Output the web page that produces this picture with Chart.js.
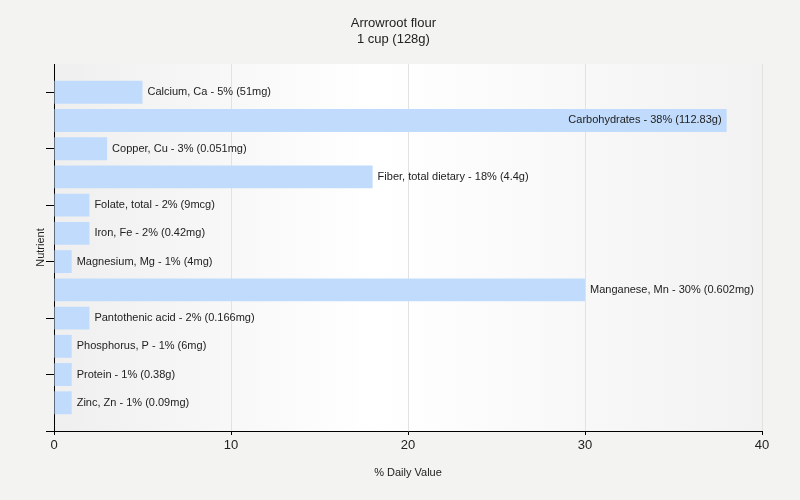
<!DOCTYPE html>
<html>
<head>
<meta charset="utf-8">
<script src="https://cdn.jsdelivr.net/npm/chart.js@4/dist/chart.umd.min.js"></script>
<style>
  html, body { margin: 0; padding: 0; background: #f3f3f1; }
  #wrap { width: 800px; height: 500px; }
</style>
</head>
<body>
<div id="wrap"><canvas id="barchart" width="800" height="500"></canvas></div>
<script>
// data
const nutrients = ["Calcium, Ca", "Carbohydrates", "Copper, Cu", "Fiber, total dietary", "Folate, total",
  "Iron, Fe", "Magnesium, Mg", "Manganese, Mn", "Pantothenic acid", "Phosphorus, P", "Protein", "Zinc, Zn"];
const dailyValues = [5, 38, 3, 18, 2, 2, 1, 30, 2, 1, 1, 1];
const amounts = ["51mg", "112.83g", "0.051mg", "4.4g", "9mcg", "0.42mg", "4mg", "0.602mg", "0.166mg", "6mg", "0.38g", "0.09mg"];
const xTicks = [0, 10, 20, 30, 40];

const barLabels = nutrients.map((n, i) => n + ' - ' + dailyValues[i] + '% (' + amounts[i] + ')');

Chart.defaults.font.family = "'Liberation Sans', Arial, sans-serif";
Chart.defaults.color = '#222';

// plot area background, light gradient
const plotBg = {
  id: 'plotBg',
  beforeDraw(chart) {
    const {ctx, chartArea: a} = chart;
    const g = ctx.createLinearGradient(a.left, 0, a.right, 0);
    g.addColorStop(0, '#efefef');
    g.addColorStop(0.45, '#ffffff');
    g.addColorStop(1, '#f2f2f2');
    ctx.save();
    ctx.fillStyle = g;
    ctx.fillRect(a.left, a.top, a.right - a.left, a.bottom - a.top);
    ctx.restore();
  }
};

// text next to / inside each bar
const barText = {
  id: 'barText',
  afterDatasetsDraw(chart) {
    const {ctx, chartArea} = chart;
    const meta = chart.getDatasetMeta(0);
    ctx.save();
    ctx.font = "11px 'Liberation Sans', Arial, sans-serif";
    ctx.fillStyle = '#222';
    ctx.textBaseline = 'middle';
    meta.data.forEach((bar, i) => {
      const txt = barLabels[i];
      const w = ctx.measureText(txt).width;
      if (bar.x + 5 + w > chartArea.right) {
        ctx.textAlign = 'right';
        ctx.fillText(txt, bar.x - 5, bar.y);
      } else {
        ctx.textAlign = 'left';
        ctx.fillText(txt, bar.x + 5, bar.y);
      }
    });
    ctx.restore();
  }
};

new Chart(document.getElementById('barchart'), {
  type: 'bar',
  data: {
    datasets: [{
      data: nutrients.map((n, i) => ({x: dailyValues[i], y: i})),
      backgroundColor: '#c0dbfc',
      borderWidth: 0,
      categoryPercentage: 1,
      barPercentage: 0.81
    }]
  },
  options: {
    responsive: false,
    animation: false,
    indexAxis: 'y',
    layout: {padding: {left: 24.8, right: 38, top: 0, bottom: 0}},
    scales: {
      x: {
        type: 'linear',
        min: 0, max: 40,
        afterBuildTicks: s => { s.ticks = xTicks.map(v => ({value: v})); },
        grid: {color: '#e2e2e2', tickLength: 4, tickColor: '#000'},
        border: {color: '#000'},
        ticks: {font: {size: 13}, color: '#222', padding: 3},
        title: {display: true, text: '% Daily Value', font: {size: 11}, color: '#222', padding: {top: 9.5, bottom: 20.7}}
      },
      y: {
        type: 'linear',
        min: -1, max: 12,
        offset: false,
        reverse: true,
        afterBuildTicks: s => { s.ticks = [0, 2, 4, 6, 8, 10, 12].map(v => ({value: v})); },
        grid: {drawOnChartArea: false, offset: false, tickLength: 8, tickColor: '#000'},
        border: {color: '#000'},
        ticks: {display: false},
        title: {display: true, text: 'Nutrient', font: {size: 11}, color: '#222', padding: {top: 10, bottom: -2}}
      }
    },
    plugins: {
      legend: {display: false},
      tooltip: {enabled: false},
      title: {
        display: true,
        text: ['Arrowroot flour', '1 cup (128g)'],
        font: {size: 13, weight: 'normal', lineHeight: 1.3},
        color: '#222',
        padding: {top: 14.5, bottom: 15.7}
      }
    }
  },
  plugins: [plotBg, barText]
});
</script>
</body>
</html>
